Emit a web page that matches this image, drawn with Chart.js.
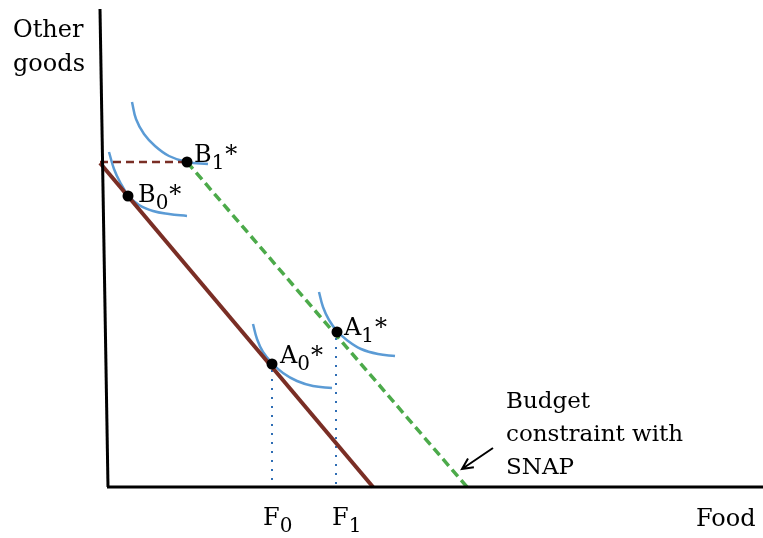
<!DOCTYPE html>
<html>
<head>
<meta charset="utf-8">
<script src="https://cdn.jsdelivr.net/npm/chart.js@4"></script>
<style>
  body { margin: 0; background: #fff; }
  canvas { display: block; }
</style>
</head>
<body>
<canvas id="snapChart" width="763" height="538"></canvas>
<script>
// Datos (unidades: origen en la esquina de los ejes)
const yAxisLine = [{x: -7, y: 478}, {x: 1, y: 0}];
const xAxisLine = [{x: 0, y: 0}, {x: 656, y: 0}];

const budgetOld = [{x: -7, y: 324}, {x: 266, y: 0}];
const budgetCap = [{x: -7, y: 325}, {x: 80, y: 325}];
const budgetSnap = [{x: 80, y: 325}, {x: 360, y: 0}];

// Curvas de indiferencia
const curveB1 = [{x: 25, y: 385}, {x: 29, y: 368}, {x: 37, y: 353}, {x: 48, y: 341}, {x: 62, y: 331}, {x: 80, y: 325}, {x: 101, y: 323}];
const curveB0 = [{x: 2, y: 335}, {x: 7, y: 318}, {x: 13, y: 305}, {x: 21, y: 292}, {x: 32, y: 282}, {x: 46, y: 276}, {x: 62, y: 273}, {x: 80, y: 271}];
const curveA1 = [{x: 212, y: 195}, {x: 216, y: 180}, {x: 222, y: 167}, {x: 230, y: 156}, {x: 241, y: 146}, {x: 254, y: 138}, {x: 271, y: 133}, {x: 288, y: 131}];
const curveA0 = [{x: 146, y: 163}, {x: 150, y: 148}, {x: 156, y: 135}, {x: 165, y: 124}, {x: 176, y: 114}, {x: 190, y: 106}, {x: 206, y: 101}, {x: 225, y: 99}];

const dropF0 = [{x: 165, y: 117}, {x: 165, y: 0}];
const dropF1 = [{x: 229, y: 149}, {x: 229, y: 0}];

const optima = [{x: 80, y: 325}, {x: 21, y: 291}, {x: 230, y: 155}, {x: 165, y: 123}];

const arrowFrom = {x: 386, y: 39};
const arrowTo = {x: 355, y: 18};

// Textos: [texto, subindice, asterisco, x, y]
const pointLabels = [
  ["B", "1", "*", 87, 325],
  ["B", "0", "*", 31, 285],
  ["A", "1", "*", 237, 152],
  ["A", "0", "*", 173, 124],
  ["F", "0", "", 156, -38],
  ["F", "1", "", 225, -38]
];
const axisLabels = [
  ["Other", -94, 450],
  ["goods", -94, 416],
  ["Food", 589, -39]
];
const noteLines = ["Budget", "constraint with", "SNAP"];
const noteBaselines = [79, 46, 13];

const brown = "#7A2E25";
const green = "#4CAA4A";
const blue = "#5B9BD5";
const mainFont = "24px 'DejaVu Serif'";

const lineSet = (data, color, width, dash) => ({
  data, borderColor: color, borderWidth: width, borderDash: dash || [],
  showLine: true, pointRadius: 0, fill: false, borderCapStyle: "butt"
});
const curveSet = data => Object.assign(lineSet(data, blue, 2.5), {tension: 0.4});

// Plugin para textos y flecha
const textPlugin = {
  id: "textPlugin",
  afterDatasetsDraw(chart) {
    const ctx = chart.ctx;
    const sx = chart.scales.x, sy = chart.scales.y;
    ctx.save();
    ctx.fillStyle = "#000";
    ctx.textBaseline = "alphabetic";
    ctx.textAlign = "left";

    ctx.font = mainFont;
    axisLabels.forEach(([t, x, y]) => ctx.fillText(t, sx.getPixelForValue(x), sy.getPixelForValue(y)));

    pointLabels.forEach(([t, sub, star, x, y]) => {
      let px = sx.getPixelForValue(x), py = sy.getPixelForValue(y);
      ctx.font = mainFont;
      ctx.fillText(t, px, py);
      px += ctx.measureText(t).width;
      ctx.font = "20px 'DejaVu Serif'";
      ctx.fillText(sub, px, py + 7);
      px += ctx.measureText(sub).width + 1;
      if (star) {
        ctx.font = mainFont;
        ctx.fillText(star, px, py);
      }
    });

    ctx.font = "23px 'DejaVu Serif'";
    noteLines.forEach((t, i) => ctx.fillText(t, sx.getPixelForValue(399), sy.getPixelForValue(noteBaselines[i])));

    // flecha
    const x1 = sx.getPixelForValue(arrowFrom.x), y1 = sy.getPixelForValue(arrowFrom.y);
    const x2 = sx.getPixelForValue(arrowTo.x), y2 = sy.getPixelForValue(arrowTo.y);
    const ang = Math.atan2(y2 - y1, x2 - x1);
    ctx.strokeStyle = "#000";
    ctx.lineWidth = 2;
    ctx.beginPath();
    ctx.moveTo(x1, y1);
    ctx.lineTo(x2, y2);
    ctx.moveTo(x2 - 12 * Math.cos(ang - 0.45), y2 - 12 * Math.sin(ang - 0.45));
    ctx.lineTo(x2, y2);
    ctx.lineTo(x2 - 12 * Math.cos(ang + 0.45), y2 - 12 * Math.sin(ang + 0.45));
    ctx.stroke();
    ctx.restore();
  }
};

new Chart("snapChart", {
  type: "scatter",
  data: {
    datasets: [
      {data: optima, pointRadius: 5.5, pointBackgroundColor: "#000", pointBorderWidth: 0, showLine: false},
      lineSet(yAxisLine, "#000", 3),
      lineSet(xAxisLine, "#000", 3),
      lineSet(budgetOld, brown, 4),
      lineSet(budgetCap, brown, 2.5, [8, 5]),
      lineSet(budgetSnap, green, 3.5, [9, 5]),
      curveSet(curveB1),
      curveSet(curveB0),
      curveSet(curveA1),
      curveSet(curveA0),
      lineSet(dropF0, "#2E6DB4", 2, [2, 7]),
      lineSet(dropF1, "#2E6DB4", 2, [2, 7])
    ]
  },
  options: {
    responsive: false,
    animation: false,
    devicePixelRatio: 1,
    layout: {padding: 0, autoPadding: false},
    plugins: {legend: {display: false}, tooltip: {enabled: false}},
    scales: {
      x: {type: "linear", min: -107, max: 656, display: false},
      y: {type: "linear", min: -51, max: 487, display: false}
    }
  },
  plugins: [textPlugin]
});
</script>
</body>
</html>
